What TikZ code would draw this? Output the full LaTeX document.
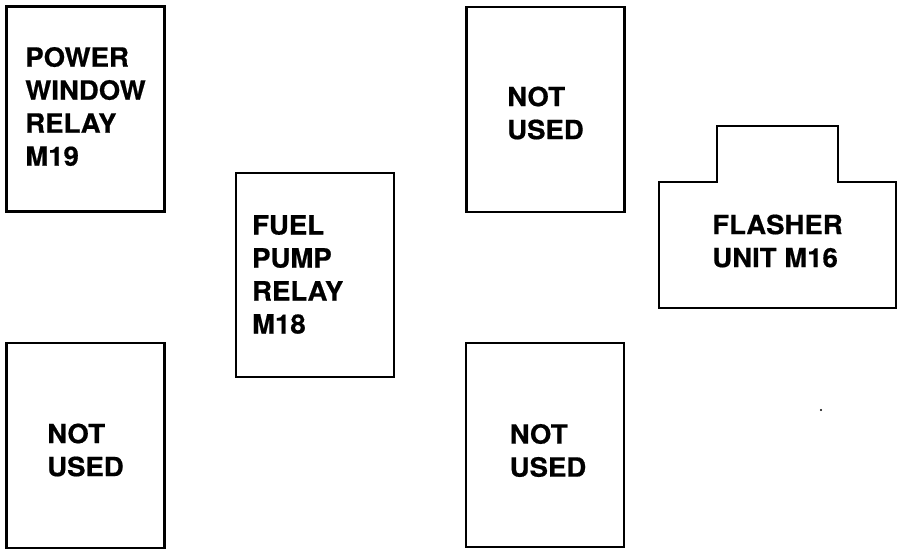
\documentclass[tikz,border=0pt]{standalone}
\usepackage{fontspec}
\setmainfont{TeX Gyre Heros}[FakeStretch=1.04,FakeBold=0.6]
\usepackage{tikz}
\usetikzlibrary{positioning,calc}
\tikzset{
  slot/.style={draw=black,line width=2.2pt,minimum width=158pt,minimum height=205pt,
               inner sep=0pt},
  tag/.style={inner sep=0pt,align=left,font=\fontsize{26.5}{33}\selectfont\bfseries},
  outline/.style={draw=black,line width=2.2pt,line join=miter},
}

\begin{document}
\begin{tikzpicture}[x=1pt,y=-1pt]
  \useasboundingbox (0,0) rectangle (912,554);
  % top row
  \node[slot] (pwr) at (85.5,109) {};
  \node[tag] (pwrtxt) at ([yshift=2.5pt]pwr.center) {POWER\\WINDOW\\RELAY\\M19};
  \node[slot] (spareA) at (545.5,109.5) {};
  \node[tag] (spareAtxt) at ([yshift=-3.5pt]spareA.center) {NOT\\USED};
  % middle
  \node[slot,minimum height=204pt] (fuel) at (315,275) {};
  \node[tag,anchor=west] (fueltxt) at ([xshift=17pt,yshift=0.5pt]fuel.west) {FUEL\\PUMP\\RELAY\\M18};
  \node[minimum width=237pt,minimum height=126pt,inner sep=0pt] (flash) at (777.5,245) {};
  \node[tag] (flashtxt) at ([yshift=4pt]flash.center) {FLASHER\\UNIT M16};
  \draw[outline] (flash.south west) -- (flash.north west)
    -- ($(flash.north)+(-60.5,0)$) -- ($(flash.north)+(-60.5,-56)$)
    -- ($(flash.north)+(60.5,-56)$) -- ($(flash.north)+(60.5,0)$)
    -- (flash.north east) -- (flash.south east) -- cycle;
  % bottom row
  \node[slot] (spareB) at (85.5,445.5) {};
  \node[tag] (spareBtxt) at ([yshift=-4.5pt]spareB.center) {NOT\\USED};
  \node[slot,minimum height=204pt] (spareC) at (545,445) {};
  \node[tag] (spareCtxt) at ([xshift=3pt,yshift=-5.5pt]spareC.center) {NOT\\USED};
  \fill (821,410) circle (1.1pt);
\end{tikzpicture}
\end{document}
